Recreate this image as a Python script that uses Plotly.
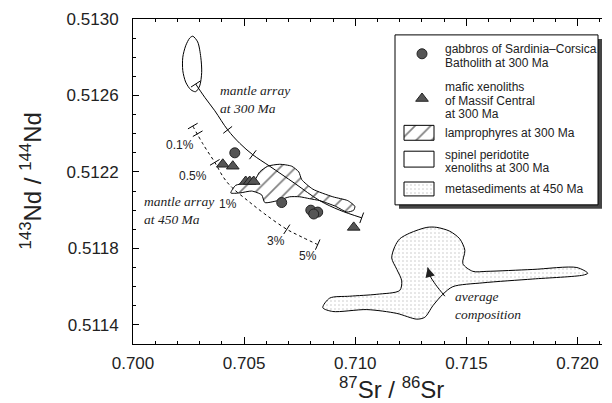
#### Sr-Nd isotope diagram: gabbros, xenoliths, lamprophyres and metasediments

import plotly.graph_objects as go

# gabbros of Sardinia-Corsica Batholith at 300 Ma
gabbro_sr = [0.70458, 0.70669, 0.70800, 0.70831, 0.70813]
gabbro_nd = [0.51230, 0.51204, 0.51200, 0.51199, 0.51198]

# mafic xenoliths of Massif Central at 300 Ma
xeno_sr = [0.70404, 0.70449, 0.70507, 0.70525, 0.70543, 0.70993]
xeno_nd = [0.51224, 0.51223, 0.51215, 0.51215, 0.51215, 0.51191]

# mantle array at 300 Ma (solid curve) and its tick marks
m300_sr = [0.70282, 0.70323, 0.70368, 0.70426, 0.70480, 0.70539, 0.70615,
           0.70728, 0.70840, 0.70930, 0.71029]
m300_nd = [0.51266, 0.51259, 0.51252, 0.51242, 0.51235, 0.51229, 0.51223,
           0.51214, 0.51205, 0.51200, 0.51196]
m300_tick_sr = [0.70282, 0.70426, 0.70539, 0.71029]
m300_tick_nd = [0.51266, 0.51242, 0.51229, 0.51196]
m300_tick_angle = [57, 52, 37, 20]

# mantle array at 450 Ma (dotted mixing curve) and its tick marks
m450_sr = [0.70269, 0.70318, 0.70368, 0.70408, 0.70444, 0.70516, 0.70593,
           0.70692, 0.70759, 0.70831]
m450_nd = [0.51244, 0.51234, 0.51225, 0.51217, 0.51212, 0.51205, 0.51198,
           0.51190, 0.51186, 0.51182]
m450_tick_sr = [0.70269, 0.70291, 0.70368, 0.70692, 0.70831]
m450_tick_nd = [0.51244, 0.51240, 0.51225, 0.51190, 0.51182]
m450_tick_angle = [60, 60, 59, 33, 24]

# percent labels along the 450 Ma curve
pct_labels = ['0.1%', '0.5%', '1%', '3%', '5%']
pct_sr = [0.70210, 0.70269, 0.70428, 0.70642, 0.70786]
pct_nd = [0.51234, 0.51218, 0.51203, 0.51184, 0.51176]

# spinel peridotite xenoliths at 300 Ma (outline)
perid_sr = [0.70269, 0.70291, 0.70305, 0.70309, 0.70300, 0.70282, 0.70260,
            0.70237, 0.70224, 0.70224, 0.70237, 0.70255, 0.70269]
perid_nd = [0.51291, 0.51288, 0.51280, 0.51272, 0.51265, 0.51262, 0.51263,
            0.51267, 0.51273, 0.51280, 0.51286, 0.51290, 0.51291]

# lamprophyres at 300 Ma (hatched field)
lamp_sr = [0.70440, 0.70462, 0.70503, 0.70543, 0.70570, 0.70606, 0.70660,
           0.70714, 0.70746, 0.70759, 0.70809, 0.70899, 0.70966, 0.70998,
           0.70993, 0.70962, 0.70912, 0.70840, 0.70795, 0.70750, 0.70705,
           0.70651, 0.70593, 0.70579, 0.70534, 0.70480, 0.70440]
lamp_nd = [0.51209, 0.51213, 0.51214, 0.51215, 0.51220, 0.51223, 0.51224,
           0.51223, 0.51220, 0.51216, 0.51211, 0.51207, 0.51205, 0.51202,
           0.51200, 0.51199, 0.51202, 0.51205, 0.51206, 0.51207, 0.51207,
           0.51205, 0.51204, 0.51208, 0.51210, 0.51209, 0.51209]

# metasediments at 450 Ma (stippled field)
meta_sr = [0.71322, 0.71367, 0.71425, 0.71470, 0.71493, 0.71484, 0.71529,
           0.71592, 0.71799, 0.71997, 0.72046, 0.72024, 0.71799, 0.71574,
           0.71439, 0.71394, 0.71349, 0.71313, 0.71277, 0.71187, 0.71052,
           0.70899, 0.70854, 0.70885, 0.70975, 0.71097, 0.71200, 0.71209,
           0.71187, 0.71164, 0.71178, 0.71200, 0.71245, 0.71322]
meta_nd = [0.51191, 0.51191, 0.51189, 0.51185, 0.51179, 0.51172, 0.51168,
           0.51168, 0.51169, 0.51170, 0.51167, 0.51166, 0.51164, 0.51162,
           0.51160, 0.51156, 0.51150, 0.51144, 0.51143, 0.51146, 0.51148,
           0.51147, 0.51149, 0.51154, 0.51155, 0.51156, 0.51158, 0.51163,
           0.51169, 0.51175, 0.51181, 0.51185, 0.51188, 0.51191]

# "average composition" arrow
avg_sr = [0.71403, 0.71362, 0.71335, 0.71326]
avg_nd = [0.51155, 0.51161, 0.51166, 0.51170]

SANS = 'Liberation Sans, Arial, sans-serif'
SERIF = 'Liberation Serif, Times New Roman, serif'
MARK = '#555555'
HATCH = dict(shape='/', size=11, solidity=0.15, fgcolor='black', bgcolor='white')
STIPPLE = dict(shape='.', size=4, solidity=0.12, fgcolor='#888888', bgcolor='white')

fig = go.Figure()

# fields
fig.add_trace(go.Scatter(x=meta_sr, y=meta_nd, mode='lines', fill='toself',
                         fillcolor='white', fillpattern=STIPPLE,
                         line=dict(color='black', width=1, shape='spline', smoothing=0.8)))
fig.add_trace(go.Scatter(x=lamp_sr, y=lamp_nd, mode='lines', fill='toself',
                         fillcolor='white', fillpattern=HATCH,
                         line=dict(color='black', width=1, shape='spline', smoothing=0.6)))
fig.add_trace(go.Scatter(x=perid_sr, y=perid_nd, mode='lines',
                         line=dict(color='black', width=1, shape='spline', smoothing=0.8)))

# mantle arrays
fig.add_trace(go.Scatter(x=m300_sr, y=m300_nd, mode='lines',
                         line=dict(color='black', width=1, shape='spline')))
fig.add_trace(go.Scatter(x=m300_tick_sr, y=m300_tick_nd, mode='markers',
                         marker=dict(symbol='line-ns', size=8, angle=m300_tick_angle,
                                     line=dict(color='black', width=1))))
fig.add_trace(go.Scatter(x=m450_sr, y=m450_nd, mode='lines',
                         line=dict(color='black', width=1, dash='dot', shape='spline')))
fig.add_trace(go.Scatter(x=m450_tick_sr, y=m450_tick_nd, mode='markers',
                         marker=dict(symbol='line-ns', size=8, angle=m450_tick_angle,
                                     line=dict(color='black', width=1))))

# average composition arrow shaft
fig.add_trace(go.Scatter(x=avg_sr, y=avg_nd, mode='lines',
                         line=dict(color='black', width=1, shape='spline')))

# samples
fig.add_trace(go.Scatter(x=gabbro_sr, y=gabbro_nd, mode='markers',
                         marker=dict(symbol='circle', size=10, color=MARK,
                                     line=dict(color='#222', width=1))))
fig.add_trace(go.Scatter(x=xeno_sr, y=xeno_nd, mode='markers',
                         marker=dict(symbol='triangle-up', size=11, color=MARK,
                                     line=dict(color='#222', width=1))))

annotations = []
# arrow head
annotations.append(dict(x=avg_sr[-1], y=avg_nd[-1], ax=avg_sr[-2], ay=avg_nd[-2],
                        xref='x', yref='y', axref='x', ayref='y', text='',
                        showarrow=True, arrowhead=2, arrowsize=1.6, arrowwidth=1.2,
                        arrowcolor='#222'))

# italic serif labels (left aligned, two lines each)
serif_labels = [('mantle array<br>at 300 Ma', 0.70381, 0.51258),
                ('mantle array<br>at 450 Ma', 0.70042, 0.51200),
                ('average<br>composition', 0.71440, 0.51150)]
for txt, sx, ny in serif_labels:
    annotations.append(dict(x=sx, y=ny, text='<i>' + txt + '</i>', showarrow=False,
                            xanchor='left', yanchor='middle', align='left',
                            font=dict(family=SERIF, size=13.5, color='#222')))

for txt, sx, ny in zip(pct_labels, pct_sr, pct_nd):
    annotations.append(dict(x=sx, y=ny, text=txt, showarrow=False,
                            font=dict(family=SANS, size=12, color='#222')))

# axis titles
annotations.append(dict(x=-0.2196, y=0.5, xref='paper', yref='paper', textangle=-90,
                        xanchor='center', yanchor='middle',
                        text='<sup>143</sup>Nd / <sup>144</sup>Nd', showarrow=False,
                        font=dict(family=SANS, size=24, color='#222')))
annotations.append(dict(x=0.552, y=-0.135, xref='paper', yref='paper',
                        xanchor='center', yanchor='middle',
                        text='<sup>87</sup>Sr / <sup>86</sup>Sr', showarrow=False,
                        font=dict(family=SANS, size=24, color='#222')))

# legend (drawn in a pixel-like overlay axis)
legend_lines = [('gabbros of Sardinia\u2013Corsica', 47), ('Batholith at 300 Ma', 61),
                ('mafic xenoliths', 85), ('of Massif Central', 99), ('at 300 Ma', 113),
                ('lamprophyres at 300 Ma', 132), ('spinel peridotite', 154),
                ('xenoliths at 300 Ma', 167), ('metasediments at 450 Ma', 188)]
for txt, ly in legend_lines:
    annotations.append(dict(x=443, y=ly, xref='x2', yref='y2', text=txt, showarrow=False,
                            xanchor='left', yanchor='middle',
                            font=dict(family=SANS, size=12, color='#222')))

fig.add_trace(go.Scatter(x=[422], y=[52], xaxis='x2', yaxis='y2', mode='markers',
                         marker=dict(symbol='circle', size=10, color=MARK, line=dict(color='#222', width=1))))
fig.add_trace(go.Scatter(x=[422], y=[97], xaxis='x2', yaxis='y2', mode='markers',
                         marker=dict(symbol='triangle-up', size=11, color=MARK, line=dict(color='#222', width=1))))
fig.add_trace(go.Scatter(x=[404, 434, 434, 404, 404], y=[124, 124, 139, 139, 124],
                         xaxis='x2', yaxis='y2', mode='lines', fill='toself', fillcolor='white',
                         fillpattern=HATCH, line=dict(color='black', width=1)))
fig.add_trace(go.Scatter(x=[404, 434, 434, 404, 404], y=[150, 150, 166, 166, 150],
                         xaxis='x2', yaxis='y2', mode='lines', line=dict(color='black', width=1)))
fig.add_trace(go.Scatter(x=[404, 434, 434, 404, 404], y=[181, 181, 195, 195, 181],
                         xaxis='x2', yaxis='y2', mode='lines', fill='toself', fillcolor='white',
                         fillpattern=STIPPLE, line=dict(color='black', width=1)))

shapes = [
    dict(type='rect', xref='x2', yref='y2', x0=399, x1=602, y0=37, y1=208,
         fillcolor='#444444', line=dict(width=0), layer='below'),
    dict(type='rect', xref='x2', yref='y2', x0=395, x1=598, y0=33, y1=204,
         fillcolor='white', line=dict(color='black', width=1), layer='below'),
]

fig.update_layout(
    width=612, height=403,
    margin=dict(l=133, r=10, t=17, b=59),
    plot_bgcolor='white', paper_bgcolor='white',
    showlegend=False,
    annotations=annotations,
    shapes=shapes,
    xaxis=dict(range=[0.700, 0.7211], tick0=0.700, dtick=0.005, tickformat='.3f',
               ticks='inside', ticklen=7, tickcolor='black',
               showline=True, linecolor='black', linewidth=1, mirror='ticks',
               showgrid=False, zeroline=False, ticklabelstandoff=4,
               minor=dict(dtick=0.001, ticks='inside', ticklen=3, tickcolor='black'),
               tickfont=dict(family=SANS, size=17, color='#222')),
    yaxis=dict(range=[0.5113, 0.5130], tick0=0.5114, dtick=0.0004, tickformat='.4f',
               ticks='inside', ticklen=6, tickcolor='black',
               showline=True, linecolor='black', linewidth=1,
               showgrid=False, zeroline=False, ticklabelstandoff=10,
               minor=dict(dtick=0.0001, ticks='inside', ticklen=3, tickcolor='black'),
               tickfont=dict(family=SANS, size=17, color='#222')),
    xaxis2=dict(overlaying='x', range=[133, 602], visible=False),
    yaxis2=dict(overlaying='y', range=[344, 17], visible=False),
)

fig.write_html("out.html", config={'displayModeBar': False},
               post_script="document.body.style.margin='0px';")
